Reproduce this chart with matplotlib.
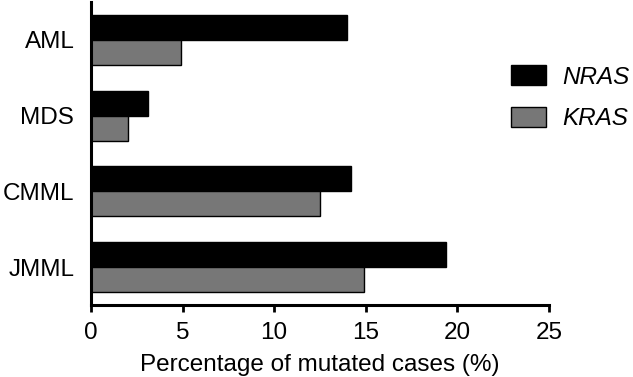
import matplotlib
matplotlib.use('Agg')
import matplotlib.pyplot as plt
import numpy as np

categories = ["AML", "MDS", "CMML", "JMML"]
nras = [14.0, 3.1, 14.2, 19.4]
kras = [4.9, 2.0, 12.5, 14.9]

plt.rcParams['font.family'] = ['Liberation Sans', 'DejaVu Sans']

fig = plt.figure(figsize=(6.33, 3.77), dpi=100)
ax = fig.add_axes([0.1438, 0.191, 0.867 - 0.1438, 0.804])

y = np.arange(len(categories))[::-1]
h = 0.33
ax.barh(y + h / 2, nras, height=h, color='black', edgecolor='black',
        linewidth=1, label='NRAS')
ax.barh(y - h / 2, kras, height=h, color='#777777', edgecolor='black',
        linewidth=1, label='KRAS')

ax.set_xlim(0, 25)
ax.set_ylim(-0.5, 3.5)
ax.set_xticks([0, 5, 10, 15, 20, 25])
ax.set_yticks(y)
ax.set_yticklabels(categories)
ax.tick_params(axis='x', labelsize=17.5, width=2, length=5, pad=7.5)
ax.tick_params(axis='y', labelsize=17.5, length=0, pad=12)
ax.set_xlabel("Percentage of mutated cases (%)", fontsize=17.5, labelpad=7)

for s in ['top', 'right']:
    ax.spines[s].set_visible(False)
for s in ['left', 'bottom']:
    ax.spines[s].set_linewidth(2.2)

leg = ax.legend(loc='upper left', bbox_to_anchor=(0.772, 0.885),
                bbox_transform=fig.transFigure, frameon=False,
                handlelength=1.44, handleheight=0.9, labelspacing=0.75,
                handletextpad=0.7, prop={'style': 'italic', 'size': 17.5})

fig.savefig('out.png', dpi=100)
